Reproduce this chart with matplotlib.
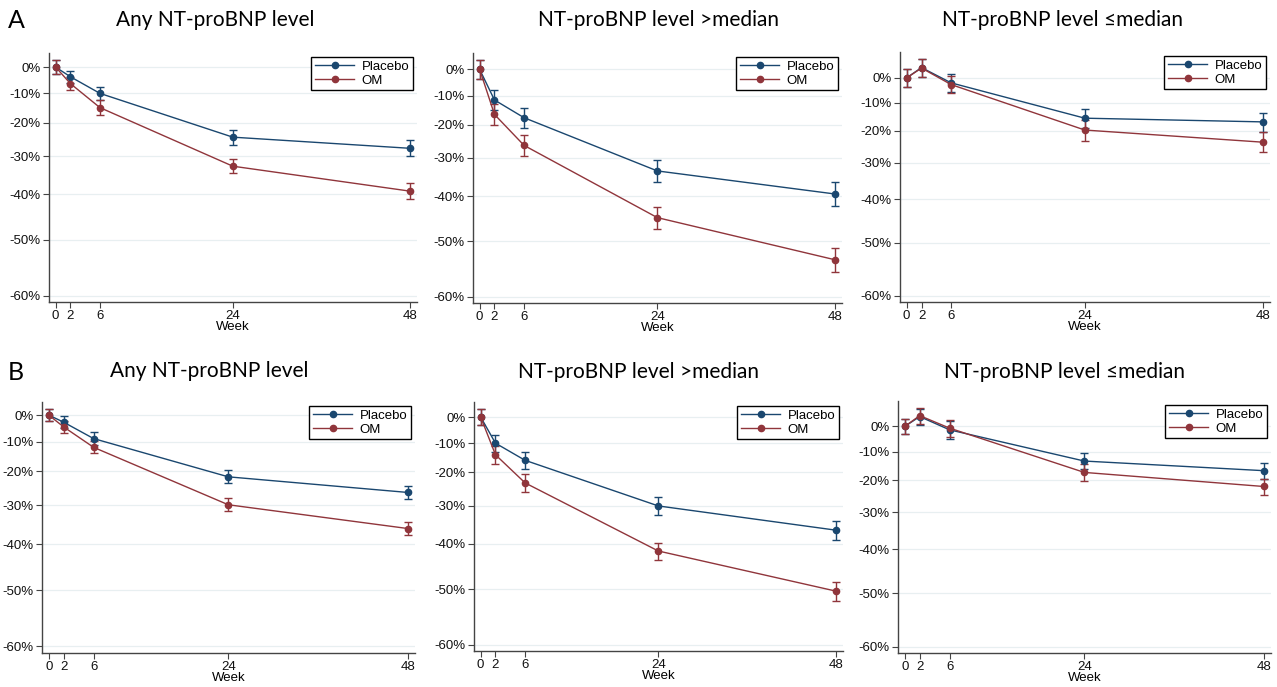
import numpy as np
import matplotlib
matplotlib.use("Agg")
import matplotlib.pyplot as plt
from matplotlib.lines import Line2D

plt.rcParams['font.family'] = ['Liberation Sans', 'DejaVu Sans']

# weeks and panel titles
weeks = [0, 2, 6, 24, 48]
titles = ["Any NT-proBNP level", "NT-proBNP level >median", "NT-proBNP level \u2264median"]
ytick_pct = [0, -10, -20, -30, -40, -50, -60]

# % change from baseline (geometric mean) and CI half-width (percentage points)
# row A
A_any_placebo = [0, -3.8, -10.0, -24.5, -27.8]
A_any_placebo_ci = [2.9, 2.4, 2.5, 2.2, 2.3]
A_any_om = [0, -6.4, -15.0, -32.8, -39.2]
A_any_om_ci = [2.9, 2.5, 2.5, 1.9, 1.9]

A_high_placebo = [0, -11.6, -17.7, -33.6, -39.5]
A_high_placebo_ci = [3.9, 3.6, 3.4, 2.9, 2.9]
A_high_om = [0, -16.6, -26.4, -45.0, -53.6]
A_high_om_ci = [3.9, 3.6, 3.1, 2.4, 2.2]

A_low_placebo = [0, 4.4, -2.1, -15.6, -16.9]
A_low_placebo_ci = [3.7, 4.0, 3.7, 3.5, 3.3]
A_low_om = [0, 4.2, -2.8, -19.7, -23.7]
A_low_om_ci = [3.7, 4.0, 3.5, 3.5, 3.2]

# row B
B_any_placebo = [0, -2.8, -8.9, -21.7, -26.4]
B_any_placebo_ci = [2.4, 2.3, 2.3, 2.0, 2.0]
B_any_om = [0, -4.6, -12.0, -29.9, -36.2]
B_any_om_ci = [2.4, 2.1, 2.1, 1.8, 1.7]

B_high_placebo = [0, -10.0, -16.0, -30.1, -36.6]
B_high_placebo_ci = [3.3, 3.2, 2.9, 2.5, 2.5]
B_high_om = [0, -14.1, -23.3, -41.7, -50.4]
B_high_om_ci = [3.3, 3.0, 2.7, 2.0, 1.9]

B_low_placebo = [0, 4.2, -1.4, -13.4, -16.8]
B_low_placebo_ci = [3.2, 3.4, 3.5, 2.9, 2.8]
B_low_om = [0, 4.6, -0.7, -17.4, -22.1]
B_low_om_ci = [3.2, 3.5, 3.5, 2.9, 2.6]

panels = [
    [(A_any_placebo, A_any_placebo_ci, A_any_om, A_any_om_ci),
     (A_high_placebo, A_high_placebo_ci, A_high_om, A_high_om_ci),
     (A_low_placebo, A_low_placebo_ci, A_low_om, A_low_om_ci)],
    [(B_any_placebo, B_any_placebo_ci, B_any_om, B_any_om_ci),
     (B_high_placebo, B_high_placebo_ci, B_high_om, B_high_om_ci),
     (B_low_placebo, B_low_placebo_ci, B_low_om, B_low_om_ci)],
]

blue = "#1a476f"
red = "#90353b"

W, H = 1277, 687
fig = plt.figure(figsize=(W / 100, H / 100), dpi=100)

# axes boxes in pixels: left, top, right, bottom
boxes = [
    [(49, 53, 417, 302), (473, 53, 842, 303), (900, 52, 1270, 302)],
    [(42, 402, 415, 653), (474, 402, 843, 651), (898, 401, 1271, 653)],
]
title_pos = [[(215, 20), (658, 20), (1063, 20)],
             [(209, 371), (638, 372), (1065, 372)]]
letter_pos = [(8, 20), (8, 372)]


def tolog(p):
    return np.log1p(np.asarray(p, dtype=float) / 100.0)


for r in range(2):
    fig.text(letter_pos[r][0] / W, 1 - letter_pos[r][1] / H, "AB"[r],
             fontsize=18, family=['Lato', 'DejaVu Sans'], va='center', ha='left')
    for c in range(3):
        l, t, rr, b = boxes[r][c]
        ax = fig.add_axes([l / W, 1 - b / H, (rr - l) / W, (b - t) / H])
        pl, plci, om, omci = panels[r][c]
        tops = []
        handles = []
        for vals, ci, col, lab in [(pl, plci, blue, "Placebo"), (om, omci, red, "OM")]:
            y = tolog(vals)
            lo = tolog(np.array(vals) - np.array(ci))
            hi = tolog(np.array(vals) + np.array(ci))
            tops.append(hi.max())
            ax.errorbar(weeks, y, yerr=[y - lo, hi - y], color=col, marker='o',
                        markersize=4.5, lw=1.0, elinewidth=1.0, capsize=3,
                        capthick=1.0)
            handles.append(Line2D([], [], color=col, marker='o', markersize=4.5,
                                  lw=1.0, label=lab))
        ax.set_xlim(-0.9, 48.95)
        ax.set_ylim(np.log(0.4) - 0.026, max(tops) + 0.028)
        ax.set_yticks(tolog(ytick_pct))
        ax.set_yticklabels(["%d%%" % v for v in ytick_pct])
        ax.set_xticks(weeks)
        ax.set_xlabel("Week", fontsize=9.5, labelpad=-1)
        ax.grid(axis='y', color='#e8eff1', lw=0.9)
        ax.set_axisbelow(True)
        for s in ['top', 'right']:
            ax.spines[s].set_visible(False)
        for s in ['left', 'bottom']:
            ax.spines[s].set_color('#444444')
            ax.spines[s].set_linewidth(1.0)
        ax.tick_params(labelsize=9.5, length=4, width=0.8, color='#444444',
                       pad=2, labelcolor='#111111')
        leg = ax.legend(handles=handles, loc='upper right', fontsize=9.5,
                        handlelength=3.0, handletextpad=0.55,
                        frameon=True, fancybox=False, borderaxespad=0.3,
                        borderpad=0.28, labelspacing=0.12)
        leg.get_frame().set_edgecolor('black')
        leg.get_frame().set_linewidth(1.0)
        leg.get_frame().set_alpha(1)
        tx, ty = title_pos[r][c]
        fig.text(tx / W, 1 - ty / H, titles[c], fontsize=15,
                 family=['Lato', 'DejaVu Sans'], ha='center', va='center')

fig.savefig("out.png", dpi=100)
